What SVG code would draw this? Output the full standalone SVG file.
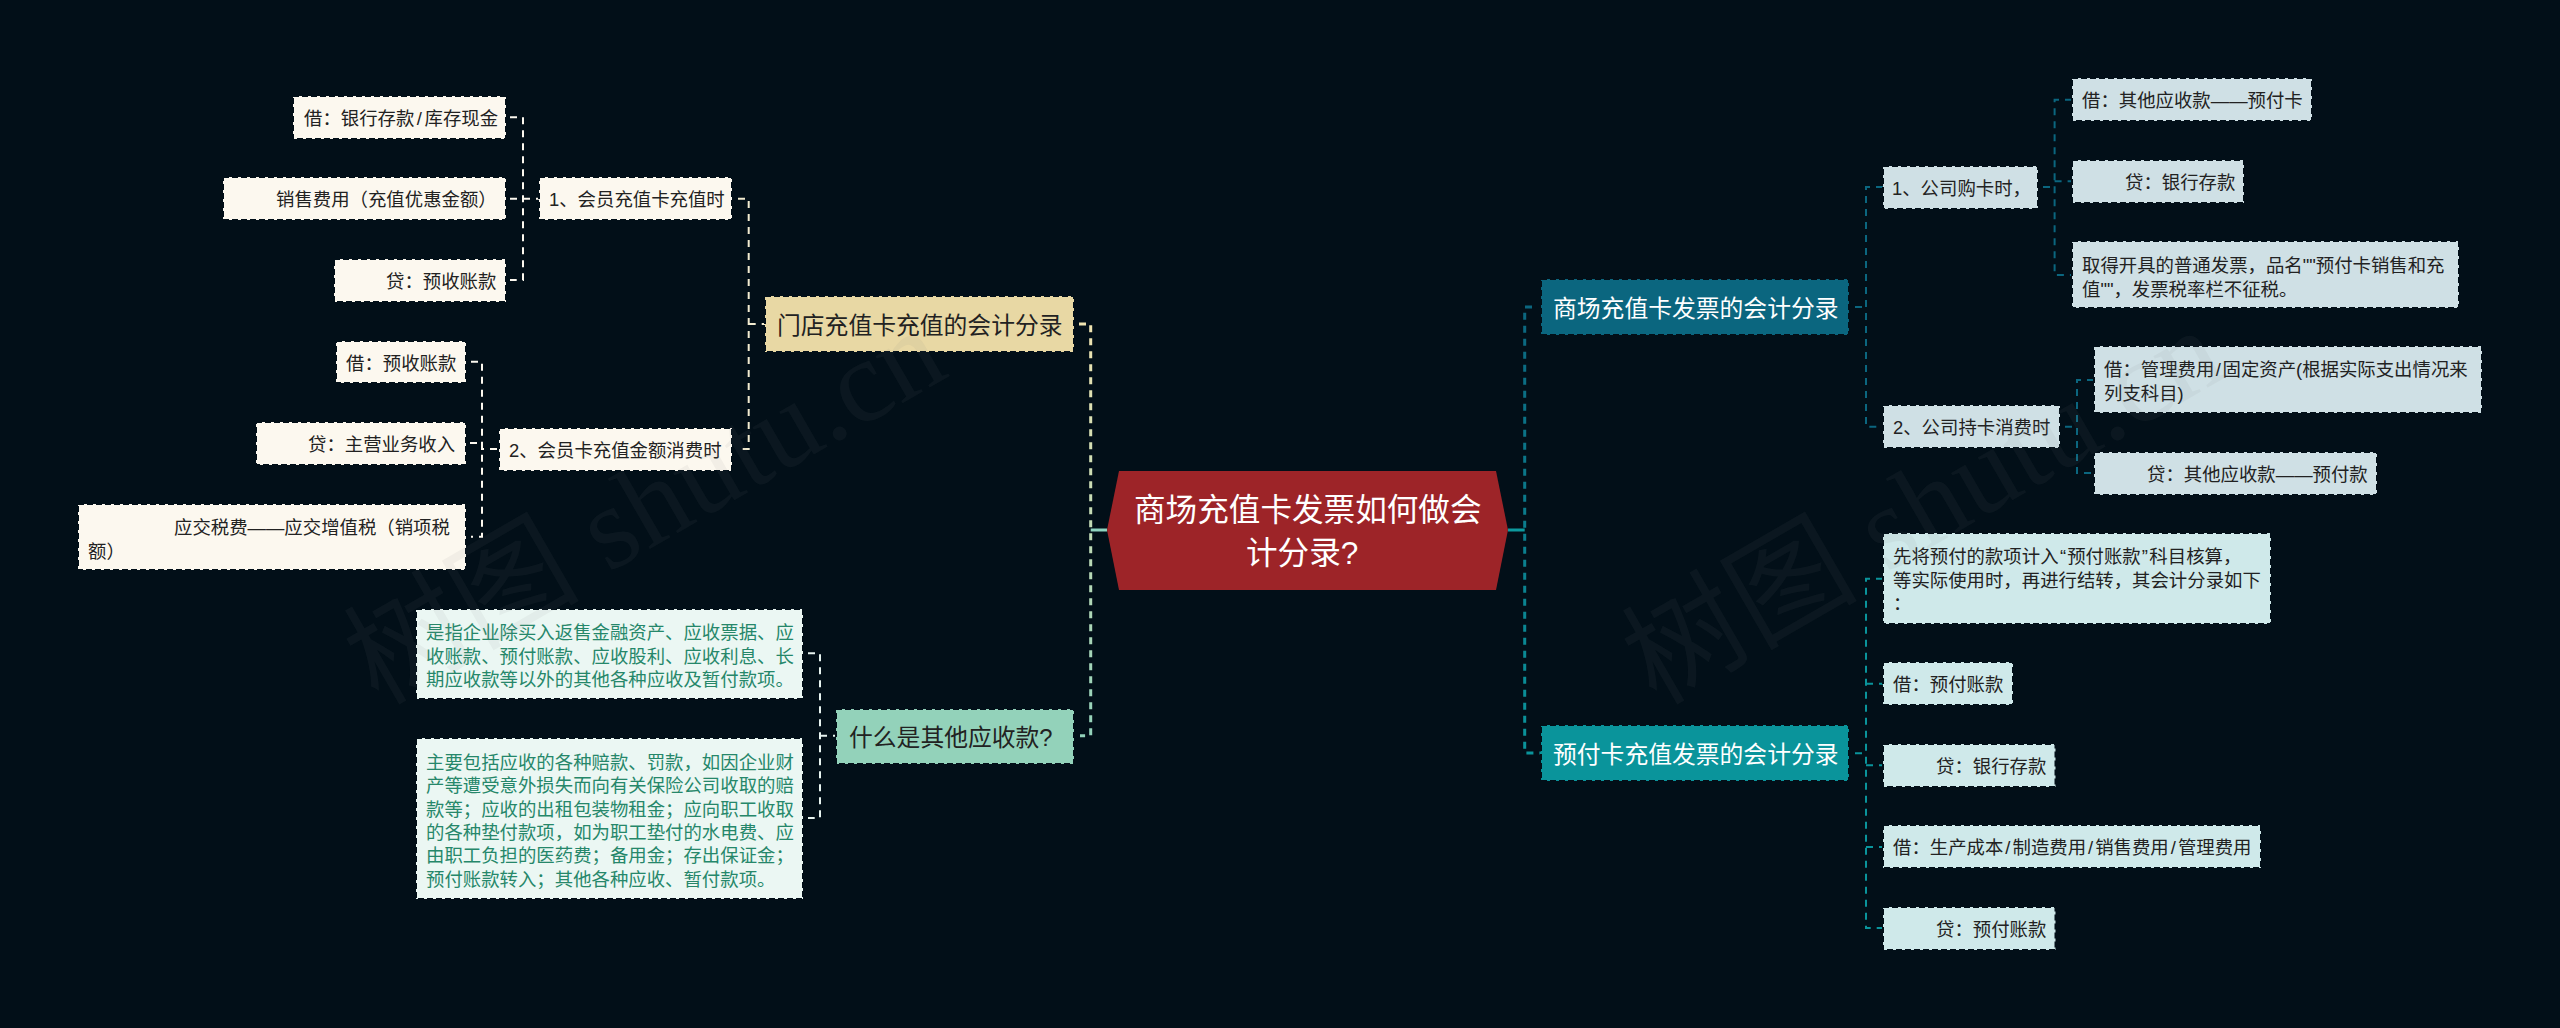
<svg xmlns="http://www.w3.org/2000/svg" width="2560" height="1028" viewBox="0 0 2560 1028">
<style>
text{font-family:"Liberation Sans","Noto Sans CJK SC",sans-serif;font-size:18.4px;fill:#222}
.b{stroke:#020f18;stroke-width:2;stroke-dasharray:6 3}
.t2 text{font-size:23.8px}
.c{fill:#fcf8ef}.g{fill:#ebf7f3}.r1{fill:#cfe0e5}.r2{fill:#cfe9ea}
.gt{fill:#26876a}
.lk{fill:none;stroke-width:2;stroke-dasharray:7 6}
.w{font-family:"Liberation Serif","Noto Sans CJK SC",serif;font-size:118px;fill:#808080;fill-opacity:.08}
</style>
<defs>
<linearGradient id="gl" gradientUnits="userSpaceOnUse" x1="0" y1="324" x2="0" y2="736"><stop offset="0" stop-color="#efe3b0"/><stop offset="1" stop-color="#93d2ba"/></linearGradient>
<linearGradient id="gr" gradientUnits="userSpaceOnUse" x1="0" y1="307" x2="0" y2="753"><stop offset="0" stop-color="#0b667f"/><stop offset="1" stop-color="#0a949b"/></linearGradient>
</defs>
<rect width="2560" height="1028" fill="#020f18"/>
<g id="connectors">
<path class="lk" style="stroke-width:3" stroke="url(#gl)" d="M1079 324H1090.7V735.7H1080"/>
<path d="M1107 530H1090.7" fill="none" stroke="#8fd4c0" stroke-width="3"/>
<path class="lk" style="stroke-width:3" stroke="url(#gr)" d="M1532 307H1524.7V753H1541"/>
<path d="M1508 530H1524.7" fill="none" stroke="#0d9a9e" stroke-width="3"/>
<path class="lk" stroke="#f3ecd0" d="M738 198.7H748.7V449H738M748.7 324H765"/>
<path class="lk" stroke="#fcf8ef" d="M510 117.3H523V280H510M510 198.7H539"/>
<path class="lk" stroke="#fcf8ef" d="M471 361.7H482V536.7H471M470 443H482V449H499"/>
<path class="lk" stroke="#e8f4f0" d="M808 653.3H820V818H808M820 735.7H836"/>
<path class="lk" stroke="#0b667f" d="M1855 307H1866M1883 187H1866V426.7H1883"/>
<path class="lk" stroke="#0b667f" d="M2043 187H2054.6M2072 99.7H2054.6V275H2072M2054.6 181.3H2072"/>
<path class="lk" stroke="#0b667f" d="M2065 426.7H2077M2094 380H2077V473H2094"/>
<path class="lk" stroke="#0a949b" d="M1855 753.3H1866M1883 578.7H1866V928H1883M1866 683.7H1883M1866 765.3H1883M1866 847H1883"/>
</g>
<g id="center"><polygon points="1107,530 1119,471 1496,471 1508,530 1496,590 1119,590" fill="#9d2428"/>
<text x="1134" y="521" style="font-size:31.6px;fill:#fff">商场充值卡发票如何做会</text><text x="1246" y="564" style="font-size:31.6px;fill:#fff">计分录?</text></g>
<g id="branch-store" class="t2"><rect class="b" x="765" y="296" width="309" height="56" fill="#e8d8a4"/><text x="777" y="334">门店充值卡充值的会计分录</text></g>
<g id="branch-what" class="t2"><rect class="b" x="836" y="709" width="238" height="55" fill="#93d2ba"/><text x="849" y="746">什么是其他应收款?</text></g>
<g id="branch-mall" class="t2"><rect class="b" x="1541" y="279" width="308" height="56" fill="#0b667f"/><text x="1553" y="317" style="fill:#fff">商场充值卡发票的会计分录</text></g>
<g id="branch-prepaid" class="t2"><rect class="b" x="1541" y="725" width="308" height="56" fill="#0a949b"/><text x="1553" y="763" style="fill:#fff">预付卡充值发票的会计分录</text></g>
<g id="m1"><rect class="b c" x="539" y="177" width="193" height="43"/><text x="549" y="206">1、会员充值卡充值时</text></g>
<g id="m2"><rect class="b c" x="499" y="428" width="233" height="43"/><text x="509" y="457">2、会员卡充值金额消费时</text></g>
<g id="l1"><rect class="b c" x="293" y="96" width="213" height="43"/><text x="304" y="125">借：银行存款<tspan dx="2.500">/</tspan><tspan dx="2.500">库存现金</tspan></text></g>
<g id="l2"><rect class="b c" x="223" y="177" width="283" height="43"/><text x="276" y="206">销售费用（充值优惠金额）</text></g>
<g id="l3"><rect class="b c" x="334" y="259" width="172" height="43"/><text x="386" y="288">贷：预收账款</text></g>
<g id="l4"><rect class="b c" x="336" y="341" width="130" height="42"/><text x="346" y="370">借：预收账款</text></g>
<g id="l5"><rect class="b c" x="256" y="422" width="210" height="43"/><text x="308" y="451">贷：主营业务收入</text></g>
<g id="l6"><rect class="b c" x="78" y="504" width="388" height="66"/><text x="174" y="534">应交税费——应交增值税（销项税</text><text x="88" y="558">额）</text></g>
<g id="q1"><rect class="b g" x="416" y="609" width="387" height="90"/>
<text class="gt" x="426" y="639">是指企业除买入返售金融资产、应收票据、应</text><text class="gt" x="426" y="663">收账款、预付账款、应收股利、应收利息、长</text><text class="gt" x="426" y="686">期应收款等以外的其他各种应收及暂付款项。</text></g>
<g id="q2"><rect class="b g" x="416" y="738" width="387" height="161"/>
<text class="gt" x="426" y="769">主要包括应收的各种赔款、罚款，如因企业财</text><text class="gt" x="426" y="792">产等遭受意外损失而向有关保险公司收取的赔</text><text class="gt" x="426" y="816">款等；应收的出租包装物租金；应向职工收取</text><text class="gt" x="426" y="839">的各种垫付款项，如为职工垫付的水电费、应</text><text class="gt" x="426" y="862">由职工负担的医药费；备用金；存出保证金；</text><text class="gt" x="426" y="886">预付账款转入；其他各种应收、暂付款项。</text></g>
<g id="r-m1"><rect class="b r1" x="1883" y="166" width="155" height="43"/><text x="1892" y="195">1、公司购卡时，</text></g>
<g id="r-m2"><rect class="b r1" x="1883" y="405" width="177" height="43"/><text x="1893" y="434">2、公司持卡消费时</text></g>
<g id="a1"><rect class="b r1" x="2072" y="78" width="240" height="43"/><text x="2082" y="107">借：其他应收款——预付卡</text></g>
<g id="a2"><rect class="b r1" x="2072" y="160" width="172" height="43"/><text x="2125" y="189">贷：银行存款</text></g>
<g id="a3"><rect class="b r1" x="2072" y="241" width="387" height="67"/><text x="2082" y="272">取得开具的普通发票，品名""预付卡销售和充</text><text x="2082" y="296">值""，发票税率栏不征税。</text></g>
<g id="b1"><rect class="b r1" x="2094" y="346" width="388" height="67"/><text x="2104" y="376">借：管理费用<tspan dx="1.500">/</tspan><tspan dx="1.500">固定资产(根据实际支出情况来</tspan></text><text x="2104" y="400">列支科目)</text></g>
<g id="b2"><rect class="b r1" x="2094" y="452" width="283" height="43"/><text x="2147" y="481">贷：其他应收款——预付款</text></g>
<g id="c1"><rect class="b r2" x="1883" y="533" width="388" height="91"/><text x="1893" y="563">先将预付的款项计入<tspan dx="1.500">“</tspan><tspan dx="1">预付账款</tspan><tspan dx="1">”</tspan><tspan dx="1.500">科目核算，</tspan></text><text x="1893" y="587">等实际使用时，再进行结转，其会计分录如下</text><text x="1893" y="610">：</text></g>
<g id="c2"><rect class="b r2" x="1883" y="662" width="130" height="43"/><text x="1893" y="691">借：预付账款</text></g>
<g id="c3"><rect class="b r2" x="1883" y="744" width="172.500" height="43"/><text x="1936" y="773">贷：银行存款</text></g>
<g id="c4"><rect class="b r2" x="1883" y="825" width="378" height="43"/><text x="1893" y="854">借：生产成本<tspan dx="2">/</tspan><tspan dx="2">制造费用</tspan><tspan dx="2">/</tspan><tspan dx="2">销售费用</tspan><tspan dx="2">/</tspan><tspan dx="2">管理费用</tspan></text></g>
<g id="c5"><rect class="b r2" x="1883" y="907" width="172.500" height="43"/><text x="1936" y="936">贷：预付账款</text></g>
<text class="w" transform="translate(378 706) rotate(-30)">树图 shutu.cn</text>
<text class="w" transform="translate(1656 706) rotate(-30)">树图 shutu.cn</text>
</svg>
